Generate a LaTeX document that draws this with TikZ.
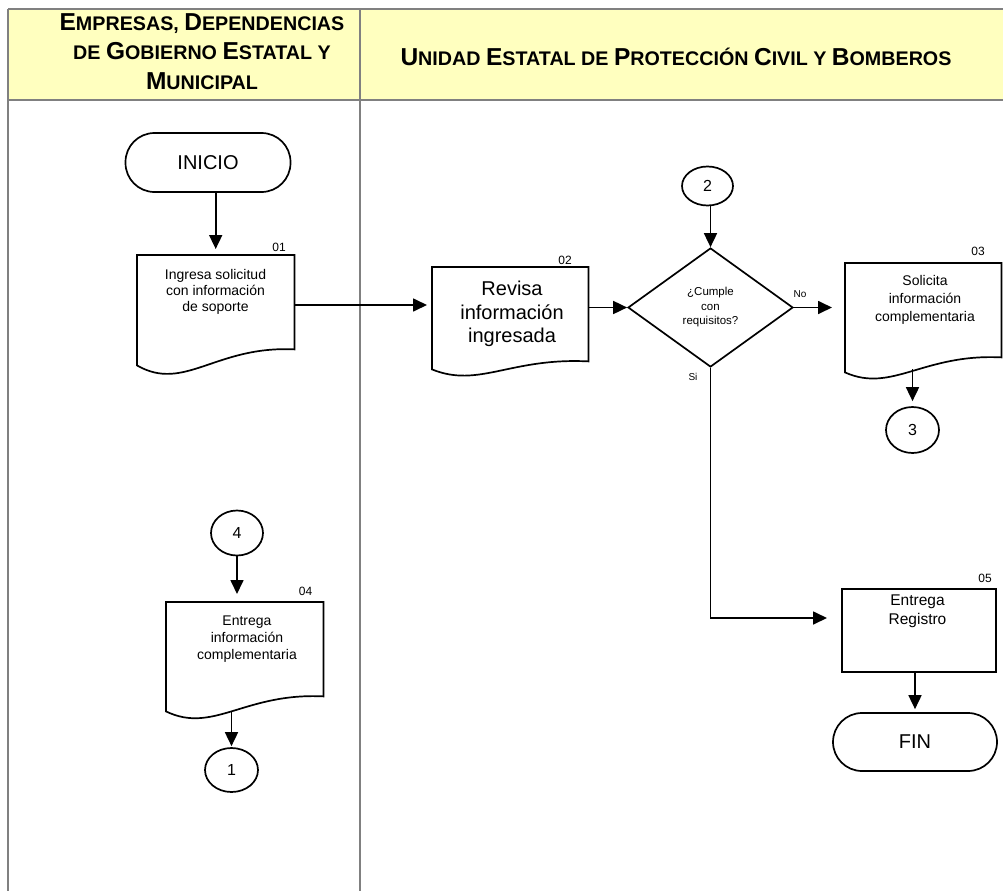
\documentclass[tikz,border=0pt]{standalone}
\usepackage{fontspec}
\setmainfont{Liberation Sans}
\usetikzlibrary{shapes.geometric,arrows.meta,calc}
\definecolor{hdrfill}{HTML}{FFFFBF}
\definecolor{gridgray}{HTML}{808080}
\newcommand\HdBig[1]{{\fontsize{24.5}{29.5}\selectfont #1}}
\newcommand\HdSm[1]{{\fontsize{19.7}{29.5}\selectfont #1}}
\newcommand\docoutline[3]{%
  \draw[shp] ($(#1.south west)+(0,-#3)$) -- (#1.north west) -- (#1.north east)
    -- ($(#1.south east)+(0,-#2)$)
    .. controls ($(#1.south east)!0.5!(#1.south west)+(0,-#2-4)$)
    and ($(#1.south west)!0.3!(#1.south east)+(0,0.8*#2)$)
    .. ($(#1.south west)+(0,-#3)$) -- cycle;}
\tikzset{
  shp/.style={draw=black, line width=1.7pt},
  arr/.style={draw=black, line width=1.7pt, -{Triangle[length=14pt,width=13pt]}},
  term/.style={shp, rectangle, rounded corners=29pt, minimum width=165pt, minimum height=59pt, inner sep=0pt, font=\fontsize{20}{24}\selectfont},
  conn/.style={shp, ellipse, minimum width=52pt, minimum height=44pt, inner sep=0pt, font=\fontsize{16}{19}\selectfont},
  boxn/.style={rectangle, inner sep=0pt, anchor=north west},
  lbl/.style={inner sep=0pt, font=\fontsize{12}{14}\selectfont},
  yn/.style={inner sep=0pt, font=\fontsize{10}{12}\selectfont},
  txt/.style={inner sep=0pt, align=center},
  hdr/.style={inner sep=0pt, align=center, font=\fontsize{24.5}{29.5}\selectfont\bfseries},
  tbl/.style={draw=gridgray, line width=2pt},
}
\begin{document}
\begin{tikzpicture}[x=1pt,y=-1pt]
\useasboundingbox (0,0) rectangle (1003,891);
% table
\fill[hdrfill] (8,9) rectangle (1003,100);
\draw[tbl] (8,9) -- (1003,9);
\draw[tbl] (8,100) -- (1003,100);
\draw[tbl] (8,9) -- (8,891);
\draw[tbl] (360,9) -- (360,891);
% headers
\node[hdr] (h1) at (202,51.5) {\HdBig{E}\HdSm{MPRESAS, }\HdBig{D}\HdSm{EPENDENCIAS}\\\HdSm{DE }\HdBig{G}\HdSm{OBIERNO }\HdBig{E}\HdSm{STATAL Y}\\\HdBig{M}\HdSm{UNICIPAL}};
\node[hdr] (h2) at (676,57) {\HdBig{U}\HdSm{NIDAD }\HdBig{E}\HdSm{STATAL DE }\HdBig{P}\HdSm{ROTECCIÓN }\HdBig{C}\HdSm{IVIL Y }\HdBig{B}\HdSm{OMBEROS}};
% terminators
\node[term] (ini) at (208,162.5) {INICIO};
\node[term, minimum width=164pt, minimum height=58pt] (fin) at (915,742) {FIN};
% connectors (circles)
\node[conn, minimum width=51pt, minimum height=39pt] (c2) at (707.5,186) {2};
\node[conn, minimum width=53pt, minimum height=46pt] (c3) at (912.5,430) {3};
\node[conn, minimum width=53pt] (c1) at (231.5,770) {1};
\node[conn, minimum height=45pt] (c4) at (237,533) {4};
% document boxes
\node[boxn, minimum width=157pt, minimum height=118pt] (b1) at (137,255) {};
\docoutline{b1}{24}{8}
\node[txt, font=\fontsize{14}{16}\selectfont] (t1) at (215.5,292) {Ingresa solicitud\\con información\\de soporte};
\node[lbl] (l1) at (279,247) {01};
\node[boxn, minimum width=156pt, minimum height=109pt] (b2) at (432,267) {};
\docoutline{b2}{15}{7}
\node[txt, font=\fontsize{20}{23.5}\selectfont] (t2) at (512,314) {Revisa\\información\\ingresada};
\node[lbl] (l2) at (565,260) {02};
\node[boxn, minimum width=156pt, minimum height=114pt] (b3) at (845,263) {};
\docoutline{b3}{20}{5}
\node[txt, font=\fontsize{14}{18}\selectfont] (t3) at (925,300) {Solicita\\información\\complementaria};
\node[lbl] (l3) at (978,251) {03};
\node[boxn, minimum width=157pt, minimum height=115pt] (b4) at (166,602) {};
\docoutline{b4}{21}{6}
\node[txt, font=\fontsize{14}{17}\selectfont] (t4) at (247,639) {Entrega\\información\\complementaria};
\node[lbl] (l4) at (305.5,591.5) {04};
% process box 05
\node[boxn, shp, minimum width=154pt, minimum height=83pt] (b5) at (841,588) {};
\node[txt, font=\fontsize{15.5}{19}\selectfont] (t5) at (917.5,611) {Entrega\\Registro};
\node[lbl] (l5) at (985,578) {05};
% decision
\node[shp, diamond, minimum width=165pt, minimum height=119pt, inner sep=0pt, align=center, font=\fontsize{11.5}{14.5}\selectfont] (dia) at (710.5,307.5) {¿Cumple\\con\\requisitos?};
\node[yn] (no) at (800,294) {No};
\node[yn] (si) at (693,377) {Si};
% helper coordinates
\coordinate (y305) at (0,305);
\coordinate (y618) at (0,618);
% arrows
\draw[arr, shorten >=6pt] (ini.south -| b1.north) -- (b1.north);
\draw[arr, shorten >=5pt] (b1.east |- y305) -- (b2.west |- y305);
\draw[arr] (b2.east |- dia.west) -- (dia.west);
\draw[arr] (c2.south -| dia.north) -- (dia.north);
\draw[arr, shorten >=13pt] (dia.east) -- (b3.west |- dia.east);
\draw[arr, shorten >=14pt] (dia.south) |- (b5.west |- y618);
\draw[arr, shorten >=5pt] ($(c3.north |- b3.south)+(0,-8)$) -- (c3.north);
\draw[arr, shorten >=3pt] (fin.north |- b5.south) -- (fin.north);
\draw[arr, shorten >=8pt] (c4.south) -- (c4.south |- b4.north);
\draw[arr, shorten >=1pt] ($(c1.north |- b4.south)+(0,-5)$) -- (c1.north);
\end{tikzpicture}
\end{document}
